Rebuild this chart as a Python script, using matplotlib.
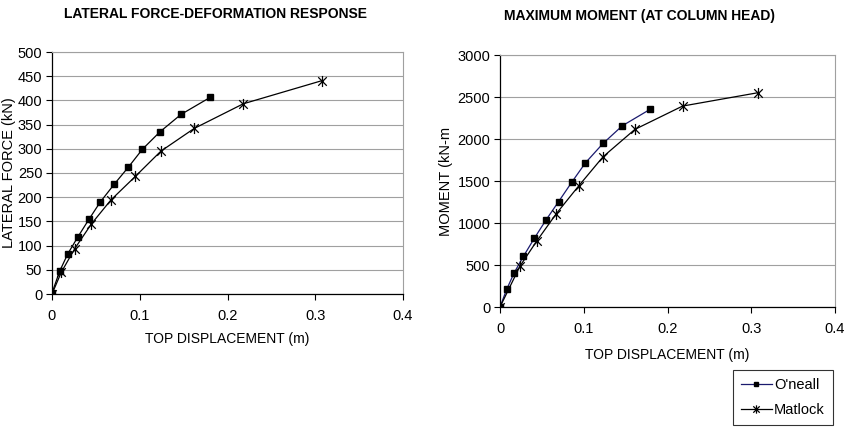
import matplotlib
matplotlib.use("Agg")
import matplotlib.pyplot as plt
from matplotlib.path import Path

plt.rcParams['font.family'] = ['Liberation Sans', 'DejaVu Sans']

# Left chart: lateral force vs top displacement
oneall_disp_f = [0.0, 0.0087, 0.018, 0.0295, 0.042, 0.055, 0.071, 0.087, 0.103, 0.123, 0.147, 0.180]
oneall_force = [2, 47, 83, 118, 154, 190, 227, 262, 299, 335, 371, 406]
matlock_disp_f = [0.0, 0.0106, 0.026, 0.045, 0.067, 0.095, 0.124, 0.162, 0.218, 0.308]
matlock_force = [0, 45, 94, 145, 194, 243, 295, 342, 393, 441]

# Right chart: moment vs top displacement
oneall_disp_m = [0.0, 0.008, 0.017, 0.028, 0.041, 0.055, 0.070, 0.086, 0.102, 0.123, 0.146, 0.179]
oneall_moment = [0, 211, 409, 604, 818, 1037, 1255, 1490, 1716, 1947, 2157, 2352]
matlock_disp_m = [0.0, 0.024, 0.044, 0.067, 0.094, 0.123, 0.161, 0.218, 0.308]
matlock_moment = [0, 489, 787, 1108, 1442, 1788, 2114, 2392, 2551]

x_ticks = [0, 0.1, 0.2, 0.3, 0.4]
x_ticklabels = ['0', '0.1', '0.2', '0.3', '0.4']
left_yticks = list(range(0, 501, 50))
right_yticks = list(range(0, 3001, 500))

W, H = 848, 436
fig = plt.figure(figsize=(W/100, H/100), dpi=100)

ast = Path([(-1, -1), (1, 1), (-1, 1), (1, -1), (0, -1.3), (0, 1.3)],
           [Path.MOVETO, Path.LINETO, Path.MOVETO, Path.LINETO, Path.MOVETO, Path.LINETO])

def mkax(l, t, r, b):
    return fig.add_axes([l/W, 1 - b/H, (r-l)/W, (b-t)/H])

def style(ax, yticks, ymax):
    ax.set_xlim(0, 0.4)
    ax.set_ylim(0, ymax)
    ax.set_xticks(x_ticks)
    ax.set_xticklabels(x_ticklabels)
    ax.set_yticks(yticks)
    ax.yaxis.grid(True, color='#a0a0a0', lw=0.8)
    ax.set_axisbelow(True)
    for s in ['top', 'right']:
        ax.spines[s].set_color('#a0a0a0')
        ax.spines[s].set_linewidth(0.8)
    for s in ['left', 'bottom']:
        ax.spines[s].set_color('black')
        ax.spines[s].set_linewidth(0.9)
    ax.tick_params(axis='both', labelsize=10.5, length=4, width=0.8, direction='out')
    ax.tick_params(axis='x', pad=6.5)
    ax.tick_params(axis='y', pad=3)

ax1 = mkax(52, 52, 403, 294)
ax1.plot(oneall_disp_f, oneall_force, color='black', lw=0.9, marker='s', ms=4.8, mfc='black', mec='black', zorder=3)
ax1.plot(matlock_disp_f, matlock_force, color='black', lw=0.9, marker=ast, ms=8, mew=0.9, mfc='none', mec='black', zorder=3)
style(ax1, left_yticks, 500)
ax1.set_ylabel('LATERAL FORCE (kN)', fontsize=10.5, labelpad=1)
ax1.set_xlabel('TOP DISPLACEMENT (m)', fontsize=10, labelpad=7)
fig.text(215/W, 1 - 14/H, 'LATERAL FORCE-DEFORMATION RESPONSE', ha='center', va='center', fontsize=10, fontweight='bold')

ax2 = mkax(500, 55, 835, 307)
ax2.plot(oneall_disp_m, oneall_moment, color='#1a1a6e', lw=0.9, marker='s', ms=4.8, mfc='black', mec='black', zorder=3, label="O'neall")
ax2.plot(matlock_disp_m, matlock_moment, color='black', lw=0.9, marker=ast, ms=8, mew=0.9, mfc='none', mec='black', zorder=3, label='Matlock')
style(ax2, right_yticks, 3000)
ax2.set_ylabel('MOMENT (kN-m', fontsize=10.5, labelpad=3)
ax2.set_xlabel('TOP DISPLACEMENT (m)', fontsize=10, labelpad=9)
fig.text(640/W, 1 - 16/H, 'MAXIMUM MOMENT (AT COLUMN HEAD)', ha='center', va='center', fontsize=10, fontweight='bold')

h, l = ax2.get_legend_handles_labels()
leg = fig.legend(h, l, loc='upper left', bbox_to_anchor=(733/W, 1 - 370/H), borderaxespad=0,
                 fontsize=10.5, frameon=True, fancybox=False, edgecolor='black', handlelength=2.1,
                 handletextpad=0.15, borderpad=0.55, labelspacing=0.75, markerscale=0.75)
leg.get_frame().set_linewidth(0.8)

fig.savefig('out.png', dpi=100)
